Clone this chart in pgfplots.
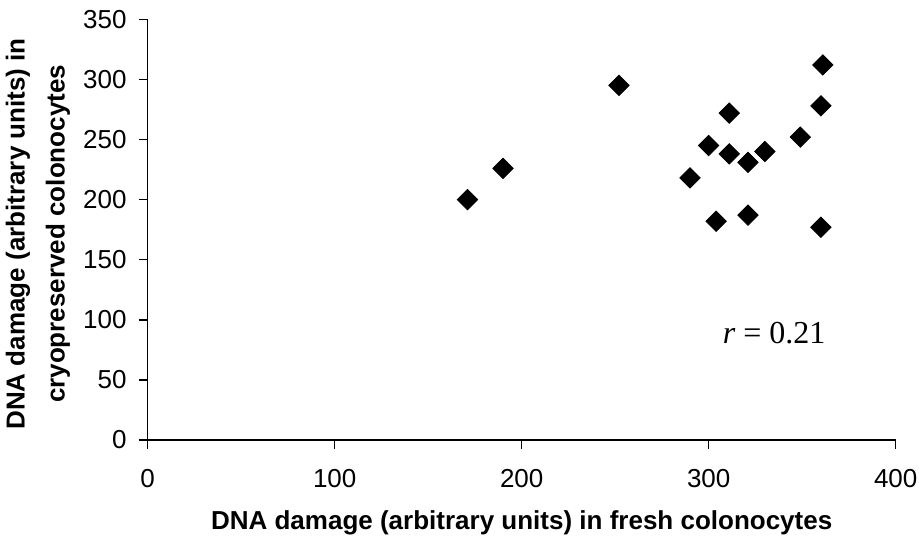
\documentclass[border=0pt]{standalone}
\usepackage{fontspec}
\setmainfont{Liberation Sans}
\newfontfamily\tnr{Liberation Serif}
\usepackage{pgfplots}
\pgfplotsset{compat=1.18}
\begin{document}
\begin{tikzpicture}
\begin{axis}[
  scale only axis,
  width=374pt, height=210.35pt,
  xmin=0, xmax=400, ymin=0, ymax=350,
  xtick={0,100,200,300,400},
  ytick={0,50,...,350},
  axis x line=bottom, axis y line=left,
  axis line style={-, line width=0.75pt},
  tick style={black, line width=0.75pt},
  tick align=outside,
  major tick length=4.5pt,
  /pgf/number format/assume math mode=true,
  ticklabel style={font=\fontsize{13}{15}\selectfont, inner sep=0pt},
  yticklabel style={xshift=-5.85pt},
  xticklabel style={yshift=-9.85pt},
  xlabel={DNA damage (arbitrary units) in fresh colonocytes},
  ylabel={DNA damage (arbitrary units) in\\cryopreserved colonocytes},
  xlabel style={font=\fontsize{13}{15}\selectfont\bfseries,
    at={(axis description cs:0.5,-0.2139)}, anchor=base, inner sep=0pt},
  ylabel style={font=\fontsize{13}{20}\selectfont\bfseries, align=center,
    at={(axis description cs:-0.1467,0.49)}, anchor=center, inner sep=0pt},
]
% fresh vs cryopreserved
\addplot[only marks, mark=square*, mark size=3.6pt,
  mark options={rotate=45, fill=black, draw=black}] coordinates {
  (171,200) (190,226) (252,295) (361,312) (360,278)
  (311,272) (349,252) (300,245) (311,238) (330,240)
  (321,231) (290,218) (304,182) (321,187) (360,177)
};
\node[font=\tnr\fontsize{16}{18}\selectfont] at (axis cs:335,89) {\textit{r} = 0.21};
\end{axis}
\pgfresetboundingbox
\path[use as bounding box] (-73.85pt,-50pt) rectangle (385.65pt,220pt);
\end{tikzpicture}
\end{document}
